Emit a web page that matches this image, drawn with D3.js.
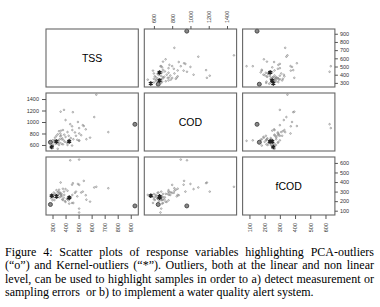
<!DOCTYPE html>
<html>
<head>
<meta charset="utf-8">
<script src="https://cdn.jsdelivr.net/npm/d3@7"></script>
<style>
    body { margin: 0; background: #fff; }
    #chart { position: absolute; left: 0; top: 0; }
    #caption {
        position: absolute; left: 5px; top: 246px; width: 369px;
        font-family: "Liberation Serif", "Times New Roman", serif;
        font-size: 12px; line-height: 13.3px; color: #000;
    }
    #caption div { text-align: justify; text-align-last: justify; }
    #caption div.last { text-align-last: left; }
</style>
</head>
<body>
<div id="chart"></div>
<div id="caption"></div>
<script>
// Variables shown on the diagonal
const vars = ["TSS", "COD", "fCOD"];

// One value per sample, same order in the three arrays
const tss = [728, 636, 620, 588, 540, 504, 504, 504, 436, 456, 388, 362, 400, 532, 555, 505, 472, 450, 452, 415,
    375, 360, 365, 360, 350, 365, 340, 320, 340, 380, 450, 340, 480, 460, 428, 400, 424, 390, 370, 355,
    330, 315, 305, 290, 310, 325, 345, 395, 410, 430, 440, 415, 385, 370, 355, 300, 520, 490, 560, 350,
    330, 495, 380, 932, 284, 294, 330, 428];
const cod = [824, 1476, 1086, 728, 930, 672, 680, 894, 962, 1171, 1211, 1180, 1034, 945, 872, 800, 818, 925, 860, 825,
    715, 750, 765, 800, 840, 850, 785, 730, 625, 610, 590, 533, 760, 700, 690, 740, 760, 780, 700, 640,
    670, 690, 600, 640, 650, 620, 680, 655, 640, 660, 720, 600, 680, 620, 700, 680, 770, 690, 700, 600,
    760, 1000, 860, 960, 647, 566, 662, 662];
const fcod = [335, 350, 343, 195, 412, 81, 122, 635, 627, 388, 300, 395, 326, 300, 262, 370, 287, 372, 265, 309,
    218, 276, 265, 287, 320, 250, 293, 276, 240, 212, 181, 265, 300, 181, 174, 192, 208, 265, 276, 287,
    250, 212, 240, 230, 290, 265, 300, 200, 225, 250, 240, 220, 235, 255, 240, 210, 290, 250, 215, 275,
    315, 380, 330, 150, 165, 257, 250, 236];

// Outlier sample indices
const pcaOutliers = [63, 64];        // drawn as "o"
const kernelOutliers = [65, 66, 67]; // drawn as "*"

// Tick labels per variable
const tssTicks = [300, 400, 500, 600, 700, 800, 900];
const codTicks = [600, 800, 1000, 1200, 1400];
const fcodTicks = [100, 200, 300, 400, 500, 600];

const columns = [tss, cod, fcod];
const ticks = [tssTicks, codTicks, fcodTicks];
const domains = [[250, 958], [495, 1505], [55, 662]];

const width = 380;
const height = 240;
const margin = { left: 46, top: 29 };
const pw = 92.3, ph = 58, gap = 6;

const svg = d3.select("#chart")
    .append("svg")
    .attr("width", width)
    .attr("height", height);

const xScales = domains.map(d => d3.scaleLinear().domain(d).range([0, pw]));
const yScales = domains.map(d => d3.scaleLinear().domain(d).range([ph, 0]));

const samples = d3.range(tss.length);
const normal = samples.filter(i => !pcaOutliers.includes(i) && !kernelOutliers.includes(i));

function styleAxis(g) {
    g.select(".domain").remove();
    g.selectAll(".tick line").attr("stroke", "#555");
    g.selectAll(".tick text")
        .attr("fill", "#333")
        .style("font-family", "'Liberation Sans', Arial, sans-serif")
        .style("font-size", "5.5px");
}

for (let r = 0; r < 3; r++) {
    for (let c = 0; c < 3; c++) {
        const g = svg.append("g")
            .attr("transform", `translate(${margin.left + c * (pw + gap)}, ${margin.top + r * (ph + gap)})`);

        if (r === c) {
            g.append("text")
                .attr("x", pw / 2)
                .attr("y", ph / 2)
                .attr("dy", "0.35em")
                .attr("text-anchor", "middle")
                .style("font-family", "'Liberation Sans', Arial, sans-serif")
                .style("font-size", "10.5px")
                .text(vars[r]);
        } else {
            const x = xScales[c], y = yScales[r];
            const xv = columns[c], yv = columns[r];

            // ordinary samples
            g.selectAll(".pt")
                .data(normal)
                .enter().append("circle")
                .attr("cx", i => x(xv[i]))
                .attr("cy", i => y(yv[i]))
                .attr("r", 0.8)
                .attr("fill", "none")
                .attr("stroke", "#888")
                .attr("stroke-width", 0.7);

            // PCA outliers
            g.selectAll(".pca")
                .data(pcaOutliers)
                .enter().append("circle")
                .attr("cx", i => x(xv[i]))
                .attr("cy", i => y(yv[i]))
                .attr("r", 2)
                .attr("fill", "#888")
                .attr("stroke", "#444")
                .attr("stroke-width", 0.9);

            // Kernel outliers
            g.selectAll(".ker")
                .data(kernelOutliers)
                .enter().append("path")
                .attr("transform", i => `translate(${x(xv[i])}, ${y(yv[i])})`)
                .attr("d", d3.symbol(d3.symbolAsterisk, 14))
                .attr("fill", "none")
                .attr("stroke", "#222")
                .attr("stroke-width", 1.4);
        }

        // panel box
        g.append("rect")
            .attr("width", pw)
            .attr("height", ph)
            .attr("fill", "none")
            .attr("stroke", "#666")
            .attr("stroke-width", 1.1);

        // axes on the outer panels, alternating like R pairs()
        if (r === 0 && c === 1) {
            g.append("g")
                .call(d3.axisTop(xScales[c]).tickValues(ticks[c]).tickSize(3).tickFormat(d3.format("d")))
                .call(styleAxis)
                .selectAll(".tick text")
                .attr("transform", "rotate(-90)")
                .attr("x", 6).attr("y", 0).attr("dy", "0.35em")
                .attr("text-anchor", "start");
        }
        if (r === 2 && (c === 0 || c === 2)) {
            g.append("g")
                .attr("transform", `translate(0, ${ph})`)
                .call(d3.axisBottom(xScales[c]).tickValues(ticks[c]).tickSize(4).tickFormat(d3.format("d")))
                .call(styleAxis)
                .selectAll(".tick text")
                .attr("transform", "rotate(-90)")
                .attr("x", -8).attr("y", 0).attr("dy", "0.35em")
                .attr("text-anchor", "end");
        }
        if (c === 0 && r === 1) {
            g.append("g")
                .call(d3.axisLeft(yScales[r]).tickValues(ticks[r]).tickSize(4).tickPadding(3).tickFormat(d3.format("d")))
                .call(styleAxis);
        }
        if (c === 2 && (r === 0 || r === 2)) {
            g.append("g")
                .attr("transform", `translate(${pw}, 0)`)
                .call(d3.axisRight(yScales[r]).tickValues(ticks[r]).tickSize(3).tickPadding(2).tickFormat(d3.format("d")))
                .call(styleAxis);
        }
    }
}

// Caption lines
const captionLines = [
    "Figure 4: Scatter plots of response variables highlighting PCA-outliers",
    "(\u201co\u201d) and Kernel-outliers (\u201c*\u201d). Outliers, both at the linear and non linear",
    "level, can be used to highlight samples in order to a) detect measurement or",
    "sampling errors \u00a0or b) to implement a water quality alert system."
];

d3.select("#caption")
    .selectAll("div")
    .data(captionLines)
    .enter().append("div")
    .attr("class", (d, i) => i === captionLines.length - 1 ? "last" : null)
    .text(d => d);
</script>
</body>
</html>
